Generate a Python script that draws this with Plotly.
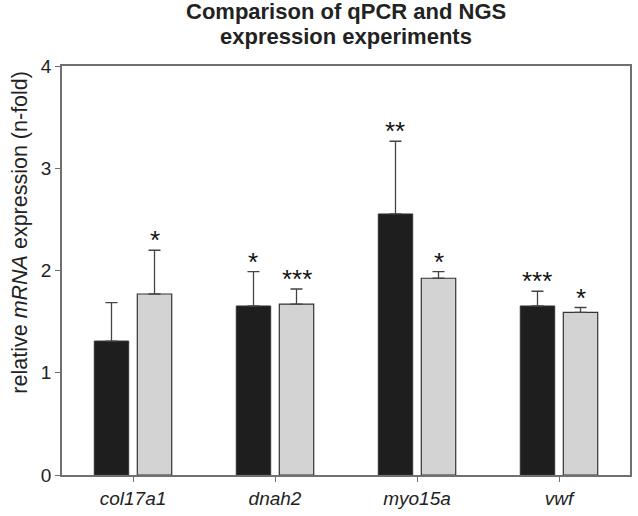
import plotly.graph_objects as go

genes = ["col17a1", "dnah2", "myo15a", "vwf"]
qpcr_mean = [1.31, 1.653, 2.553, 1.653]
qpcr_err = [0.376, 0.336, 0.711, 0.144]
ngs_mean = [1.77, 1.672, 1.924, 1.591]
ngs_err = [0.428, 0.147, 0.065, 0.047]
qpcr_sig = ["", "*", "**", "***"]
ngs_sig = ["*", "***", "*", "*"]
title_lines = ["Comparison of qPCR and NGS", "expression experiments"]

FONT = "Liberation Sans, Arial, Helvetica"

fig = go.Figure()
fig.add_trace(go.Bar(
    x=genes, y=qpcr_mean, name="qPCR",
    marker=dict(color="#1e1e1e", line=dict(color="#333333", width=1)),
    error_y=dict(type="data", array=qpcr_err, arrayminus=[0]*4, symmetric=False,
                 color="#444444", thickness=1.3, width=6),
))
fig.add_trace(go.Bar(
    x=genes, y=ngs_mean, name="NGS",
    marker=dict(color="#d3d3d3", line=dict(color="#333333", width=1.2)),
    error_y=dict(type="data", array=ngs_err, arrayminus=[0]*4, symmetric=False,
                 color="#444444", thickness=1.3, width=6),
))

off = 0.1515
for i in range(len(genes)):
    for sig, m, e, dx in [(qpcr_sig[i], qpcr_mean[i], qpcr_err[i], -off),
                          (ngs_sig[i], ngs_mean[i], ngs_err[i], off)]:
        if sig:
            fig.add_annotation(x=i + dx, y=m + e, xref="x", yref="y", text=sig,
                               showarrow=False, yanchor="middle", yshift=10,
                               font=dict(family=FONT, size=26, color="#111111"))

fig.add_annotation(xref="paper", yref="paper", x=-0.0736, y=0.593,
                   text="relative <i>mRNA</i> expression (n-fold)", textangle=-90,
                   showarrow=False, xanchor="center", yanchor="middle",
                   font=dict(family=FONT, size=21.5, color="#222222"))

for k, line in enumerate(title_lines):
    fig.add_annotation(xref="paper", yref="paper", x=0.5, y=1 + (54 - 24 * k) / 409,
                       text=f"<b>{line}</b>", showarrow=False,
                       xanchor="center", yanchor="middle",
                       font=dict(family=FONT, size=22, color="#222222"))

fig.update_layout(
    width=638, height=516,
    margin=dict(l=62, r=6, t=66, b=41),
    paper_bgcolor="white", plot_bgcolor="white",
    showlegend=False,
    bargap=0.394, bargroupgap=0.2,
    font=dict(family=FONT, color="#222222"),
)
fig.update_xaxes(
    range=[-0.5, 3.5], showline=True, linecolor="#707070", linewidth=1.5, mirror=True,
    ticks="outside", ticklen=5, tickcolor="#707070", tickwidth=1,
    tickvals=list(range(len(genes))), ticktext=[f"<i>{g}</i>" for g in genes],
    tickfont=dict(size=19, color="#222222"), showgrid=False, zeroline=False,
)
fig.update_yaxes(
    range=[0, 4], showline=True, linecolor="#707070", linewidth=1.5, mirror=True,
    ticks="outside", ticklen=5, tickcolor="#707070", tickwidth=1,
    tickvals=[0, 1, 2, 3, 4], tickfont=dict(size=19, color="#222222"),
    showgrid=False, zeroline=False,
)

fig.write_html("out.html", config={"displayModeBar": False},
               post_script="document.body.style.margin='0px';document.body.style.overflow='hidden';")
